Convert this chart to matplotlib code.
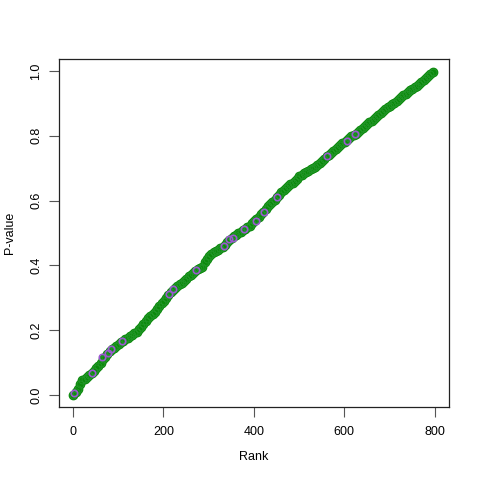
import numpy as np
import matplotlib
matplotlib.use("Agg")
import matplotlib.pyplot as plt

# sorted p-values, one every 5 ranks (ranks 1, 6, ..., 796)
ranks = np.arange(1, 801, 5)
pvals = [
    0.001, 0.010, 0.020, 0.035, 0.045, 0.050, 0.055, 0.063, 0.069, 0.075,
    0.082, 0.090, 0.100, 0.110, 0.118, 0.128, 0.136, 0.142, 0.146, 0.152,
    0.158, 0.164, 0.168, 0.172, 0.177, 0.181, 0.185, 0.190, 0.196, 0.203,
    0.211, 0.219, 0.228, 0.237, 0.244, 0.250, 0.257, 0.266, 0.275, 0.283,
    0.291, 0.300, 0.309, 0.317, 0.325, 0.331, 0.337, 0.342, 0.346, 0.351,
    0.357, 0.366, 0.372, 0.377, 0.383, 0.388, 0.391, 0.395, 0.412, 0.420,
    0.428, 0.434, 0.440, 0.445, 0.449, 0.453, 0.458, 0.463, 0.472, 0.480,
    0.485, 0.490, 0.495, 0.500, 0.504, 0.509, 0.513, 0.518, 0.523, 0.530,
    0.537, 0.544, 0.550, 0.558, 0.566, 0.575, 0.582, 0.590, 0.596, 0.603,
    0.610, 0.618, 0.626, 0.634, 0.640, 0.645, 0.650, 0.655, 0.660, 0.667,
    0.675, 0.680, 0.684, 0.688, 0.692, 0.697, 0.701, 0.705, 0.710, 0.716,
    0.723, 0.730, 0.737, 0.742, 0.748, 0.754, 0.760, 0.766, 0.772, 0.777,
    0.782, 0.786, 0.792, 0.798, 0.803, 0.807, 0.812, 0.818, 0.824, 0.830,
    0.836, 0.842, 0.847, 0.853, 0.859, 0.865, 0.871, 0.877, 0.883, 0.888,
    0.893, 0.898, 0.902, 0.907, 0.913, 0.920, 0.925, 0.930, 0.935, 0.940,
    0.945, 0.950, 0.955, 0.961, 0.966, 0.972, 0.978, 0.984, 0.990, 0.996,
]

# highlighted points (purple open circles)
hl_ranks = [3, 41, 65, 78, 84, 109, 212, 222, 273, 334, 345, 354, 378, 404, 422, 451, 562, 606, 625]
hl_pvals = [0.007, 0.069, 0.117, 0.129, 0.141, 0.167, 0.311, 0.327, 0.386, 0.460, 0.481, 0.486,
            0.511, 0.538, 0.566, 0.610, 0.738, 0.785, 0.806]

plt.rcParams['font.family'] = ['Liberation Sans', 'DejaVu Sans']

fig = plt.figure(figsize=(4.8, 4.8), dpi=100)
ax = fig.add_axes([0.1229, 0.152, 0.8125, 0.725])

ax.plot(ranks, pvals, 'o', mfc='#0b8a0b', mec='#0b8a0b', mew=1.0, ms=6.0, ls='none')
ax.plot(ranks, pvals, 'o', mfc='none', mec='#23962a', mew=0.6, ms=5.0, ls='none')
ax.plot(hl_ranks, hl_pvals, 'o', mfc='none', mec='#9b59d0', mew=1.2, ms=4.6, ls='none')

ax.set_xlim(-31, 832)
ax.set_ylim(-0.037, 1.037)
ax.set_xticks([0, 200, 400, 600, 800])
ax.set_yticks([0.0, 0.2, 0.4, 0.6, 0.8, 1.0])
ax.set_yticklabels(['0.0', '0.2', '0.4', '0.6', '0.8', '1.0'], rotation=90, va='center')
ax.tick_params(direction='out', length=7, width=0.8, labelsize=9, color='#555555')
ax.tick_params(axis='x', pad=7)
ax.tick_params(axis='y', pad=5)
for s in ax.spines.values():
    s.set_linewidth(0.9)
    s.set_color('#222222')

ax.set_xlabel('Rank', fontsize=9, labelpad=9)
ax.set_ylabel('P-value', fontsize=9, labelpad=10)

fig.savefig('out.png', dpi=100)
